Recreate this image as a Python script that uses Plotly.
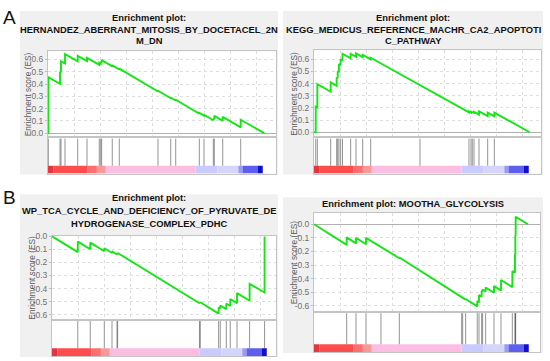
import plotly.graph_objects as go

# ---------------- data ----------------
# shared ranked-list colour bar (rank edges and colours)
bar_edges = [0, 500, 3800, 4700, 5560, 14200, 16300, 18300, 18700, 20150, 20650]
bar_colors = ['#e8343c', '#ff4d4d', '#ff6f6f', '#f89a9a', '#fcbde3',
              '#c9cafe', '#d5d5fb', '#9a9af3', '#5f5fee', '#1010cc']

# Panel A-left
a1_title = ["Enrichment plot:", "HERNANDEZ_ABERRANT_MITOSIS_BY_DOCETACEL_2N", "M_DN"]
a1_hits = [30, 1154, 1250, 1635, 2855, 3750, 4930, 5065, 5160, 6180, 6855,
           10575, 11800, 12280, 14550, 15000, 15895, 15990, 16800, 18530]
a1_before = [0.0, 0.402, 0.495, 0.567, 0.584, 0.586, 0.556, 0.566, 0.575, 0.544, 0.518,
             0.339, 0.284, 0.266, 0.158, 0.143, 0.105, 0.113, 0.100, 0.047]
a1_after = [0.456, 0.50, 0.585, 0.643, 0.629, 0.613, 0.572, 0.580, 0.595, 0.552, 0.525,
            0.345, 0.290, 0.272, 0.165, 0.150, 0.118, 0.141, 0.133, 0.109]
a1_end = 20800
a1_ticks = [0.0, 0.1, 0.2, 0.3, 0.4, 0.5, 0.6]
a1_ticktext = ["0.0", "0.1", "0.2", "0.3", "0.4", "0.5", "0.6"]

# Panel A-right
a2_title = ["Enrichment plot:", "KEGG_MEDICUS_REFERENCE_MACHR_CA2_APOPTOTI", "C_PATHWAY"]
a2_hits = [165, 320, 1605, 2180, 2280, 2400, 2560, 2740, 3525, 4040, 4680, 5450,
           10190, 14900, 15095, 15220, 15385, 15865, 16700, 17340]
a2_before = [0.0, 0.203, 0.333, 0.382, 0.445, 0.494, 0.552, 0.591, 0.607, 0.620, 0.617, 0.599,
             0.384, 0.164, 0.161, 0.162, 0.160, 0.145, 0.132, 0.131]
a2_after = [0.21, 0.395, 0.41, 0.45, 0.50, 0.56, 0.60, 0.645, 0.645, 0.648, 0.636, 0.612,
            0.39, 0.17, 0.168, 0.168, 0.168, 0.172, 0.162, 0.162]
a2_end = 20730
a2_ticks = a1_ticks
a2_ticktext = a1_ticktext

# Panel B-left
b1_title = ["Enrichment plot:", "WP_TCA_CYCLE_AND_DEFICIENCY_OF_PYRUVATE_DE", "HYDROGENASE_COMPLEX_PDHC"]
b1_hits = [2480, 3680, 5030, 5770, 6250, 6310, 14180, 14260, 16020, 16180, 16760,
           17140, 17790, 19000, 20440]
b1_before = [-0.121, -0.099, -0.114, -0.127, -0.139, -0.133, -0.513, -0.511, -0.592, -0.553,
             -0.558, -0.534, -0.512, -0.494, -0.43]
b1_after = [-0.04, -0.048, -0.091, -0.115, -0.13, -0.127, -0.507, -0.505, -0.545, -0.53,
            -0.515, -0.48, -0.435, -0.365, 0.0]
b1_end = 20440
b1_ticks = [0.0, -0.1, -0.2, -0.3, -0.4, -0.5, -0.6]
b1_ticktext = ["0.0", "-0.1", "-0.2", "-0.3", "-0.4", "-0.5", "-0.6"]

# Panel B-right
b2_title = ["Enrichment plot: MOOTHA_GLYCOLYSIS"]
b2_hits = [3140, 4040, 5000, 6440, 8205, 14200, 14295, 14580, 15700, 15865, 16120,
           16215, 16505, 17310, 17980, 19070, 19325, 19360, 19390]
b2_before = [-0.152, -0.141, -0.147, -0.17, -0.25, -0.536, -0.545, -0.554, -0.604, -0.573,
             -0.532, -0.495, -0.494, -0.504, -0.487, -0.463, -0.357, -0.222, -0.082]
b2_after = [-0.097, -0.10, -0.10, -0.165, -0.245, -0.54, -0.54, -0.55, -0.565, -0.52,
            -0.49, -0.48, -0.465, -0.455, -0.41, -0.345, -0.22, -0.08, 0.055]
b2_end = 20560
b2_ticks = b1_ticks
b2_ticktext = b1_ticktext

# ---------------- layout geometry (pixels) ----------------
W, H = 550, 361
PX_PER_RANK = 26 / 2500.0

panels = [
    dict(title=a1_title, title_y=[14, 26, 38], hits=a1_hits, before=a1_before, after=a1_after,
         end=a1_end, ticks=a1_ticks, ticktext=a1_ticktext,
         box=(20, 7, 278, 173), px=(48, 276), es=(48, 135), low=(135, 172), yr=(-0.032, 0.666)),
    dict(title=a2_title, title_y=[14, 26, 38], hits=a2_hits, before=a2_before, after=a2_after,
         end=a2_end, ticks=a2_ticks, ticktext=a2_ticktext,
         box=(283, 7, 543, 173), px=(314, 541), es=(47, 135), low=(135, 172), yr=(-0.04, 0.673)),
    dict(title=b1_title, title_y=[197, 210, 223], hits=b1_hits, before=b1_before, after=b1_after,
         end=b1_end, ticks=b1_ticks, ticktext=b1_ticktext,
         box=(20, 193, 278, 358), px=(52, 276), es=(235, 320), low=(320, 357), yr=(-0.638, 0.005)),
    dict(title=b2_title, title_y=[203], hits=b2_hits, before=b2_before, after=b2_after,
         end=b2_end, ticks=b2_ticks, ticktext=b2_ticktext,
         box=(283, 196, 543, 354), px=(314, 540), es=(212, 312), low=(312, 353), yr=(-0.643, 0.082)),
]

FONT = "Liberation Sans, Arial, sans-serif"
FRAME = '#c4c4c4'
GRID = '#dedede'
BAR_PX = 8

fig = go.Figure()
shapes = []
annotations = []
layout_axes = {}

centers = [(bar_edges[k] + bar_edges[k + 1]) / 2 for k in range(len(bar_colors))]
widths = [bar_edges[k + 1] - bar_edges[k] for k in range(len(bar_colors))]

for i, p in enumerate(panels):
    ke, kl = 2 * i + 1, 2 * i + 2
    xe = 'x' if ke == 1 else f'x{ke}'
    ye = 'y' if ke == 1 else f'y{ke}'
    xl, yl = f'x{kl}', f'y{kl}'
    x0, x1 = p['px']
    xr = [0, (x1 - x0) / PX_PER_RANK]
    low_h = p['low'][1] - p['low'][0]
    bar_frac = BAR_PX / low_h
    top_frac = 1 - 1.5 / low_h

    # panel background and white plot area
    bx0, by0, bx1, by1 = p['box']
    shapes.append(dict(type='rect', xref='paper', yref='paper', x0=bx0 / W, x1=bx1 / W,
                       y0=1 - by1 / H, y1=1 - by0 / H, fillcolor='#f0f0f0',
                       line=dict(width=0), layer='below'))
    shapes.append(dict(type='rect', xref='paper', yref='paper', x0=x0 / W, x1=x1 / W,
                       y0=1 - p['low'][1] / H, y1=1 - p['es'][0] / H, fillcolor='white',
                       line=dict(width=0), layer='below'))

    # running enrichment score
    xs, ys = [0], [0.0]
    for h, b, a in zip(p['hits'], p['before'], p['after']):
        xs += [h, h]
        ys += [b, a]
    xs.append(p['end'])
    ys.append(0.0)
    fig.add_trace(go.Scatter(x=xs, y=ys, mode='lines', line=dict(color='#14e614', width=1.9),
                             xaxis=xe, yaxis=ye, showlegend=False, hoverinfo='skip'))

    # hit lines
    hx, hy = [], []
    for h in p['hits']:
        hx += [h, h, None]
        hy += [bar_frac, top_frac, None]
    fig.add_trace(go.Scatter(x=hx, y=hy, mode='lines', line=dict(color='rgba(60,60,60,0.55)', width=1),
                             xaxis=xl, yaxis=yl, showlegend=False, hoverinfo='skip'))

    # ranked list colour bar
    fig.add_trace(go.Bar(x=centers, y=[bar_frac] * len(centers), width=widths, base=0,
                         marker=dict(color=bar_colors, line=dict(width=0)),
                         xaxis=xl, yaxis=yl, showlegend=False, hoverinfo='skip'))

    dom_x = [x0 / W, x1 / W]
    layout_axes['xaxis' if ke == 1 else f'xaxis{ke}'] = dict(
        domain=dom_x, range=xr, anchor=ye, showgrid=True, gridcolor=GRID, griddash='dot',
        dtick=2500, tick0=0, showticklabels=False, ticks='', zeroline=False,
        showline=True, linecolor=FRAME, mirror=True, fixedrange=True)
    layout_axes['yaxis' if ke == 1 else f'yaxis{ke}'] = dict(
        domain=[1 - p['es'][1] / H, 1 - p['es'][0] / H], range=list(p['yr']), anchor=xe,
        tickvals=p['ticks'], ticktext=p['ticktext'],
        tickfont=dict(family=FONT, size=8.5, color='#707070'),
        ticks='outside', ticklen=2, tickcolor='#bbbbbb',
        showgrid=True, gridcolor=GRID, griddash='dot',
        zeroline=True, zerolinecolor='#b0b0b0', zerolinewidth=1,
        showline=True, linecolor=FRAME, mirror=True, fixedrange=True)
    layout_axes[f'xaxis{kl}'] = dict(
        domain=dom_x, range=xr, anchor=yl, showgrid=False, showticklabels=False, ticks='',
        zeroline=False, showline=True, linecolor=FRAME, mirror=True, fixedrange=True)
    layout_axes[f'yaxis{kl}'] = dict(
        domain=[1 - p['low'][1] / H, 1 - p['low'][0] / H], range=[0, 1], anchor=xl,
        showgrid=False, showticklabels=False, ticks='', zeroline=False,
        showline=True, linecolor=FRAME, mirror=True, fixedrange=True)

    # titles
    cx = (bx0 + bx1) / 2 / W
    for line, ty in zip(p['title'], p['title_y']):
        annotations.append(dict(text=f"<b>{line}</b>", x=cx, y=1 - ty / H, xref='paper', yref='paper',
                                xanchor='center', yanchor='middle', showarrow=False,
                                font=dict(family=FONT, size=9.35, color='#111111')))
    # y-axis title
    annotations.append(dict(text="Enrichment score (ES)", x=(x0 - 20) / W,
                            y=1 - (p['es'][0] + p['es'][1]) / 2 / H, xref='paper', yref='paper',
                            xanchor='center', yanchor='middle', textangle=-90, showarrow=False,
                            font=dict(family=FONT, size=8.3, color='#5a5a5a')))

# panel letters
annotations.append(dict(text="A", x=9 / W, y=1 - 14 / H, xref='paper', yref='paper', showarrow=False,
                        xanchor='center', yanchor='middle', font=dict(family=FONT, size=19, color='#111111')))
annotations.append(dict(text="B", x=9 / W, y=1 - 196 / H, xref='paper', yref='paper', showarrow=False,
                        xanchor='center', yanchor='middle', font=dict(family=FONT, size=19, color='#111111')))

fig.update_layout(width=W, height=H, margin=dict(l=0, r=0, t=0, b=0),
                  paper_bgcolor='white', plot_bgcolor='white', barmode='overlay',
                  shapes=shapes, annotations=annotations, **layout_axes)

fig.write_html("out.html", config={'displayModeBar': False},
               post_script="document.body.style.margin='0';document.body.style.padding='0';")
